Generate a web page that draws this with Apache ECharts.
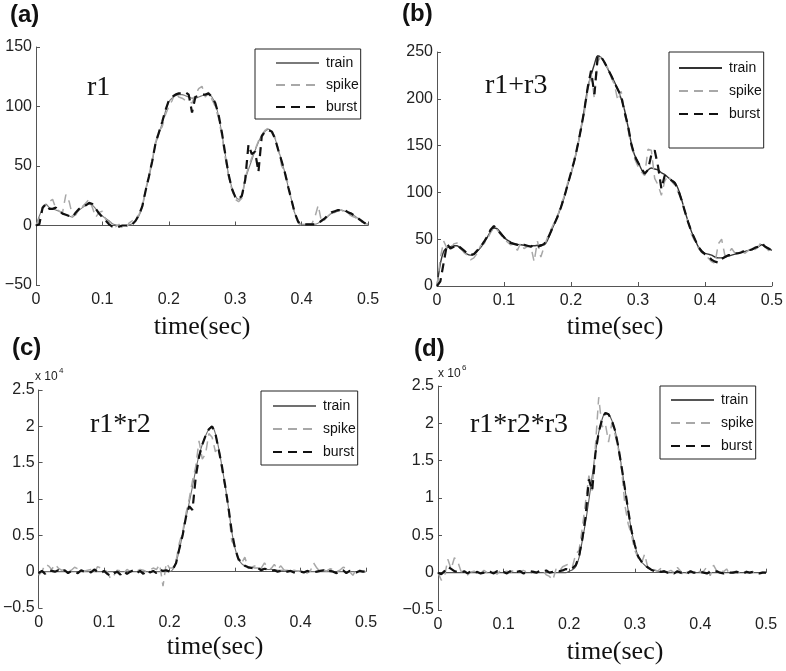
<!DOCTYPE html>
<html>
<head>
<meta charset="utf-8">
<script src="https://cdn.jsdelivr.net/npm/echarts@6/dist/echarts.min.js"></script>
<style>
html,body{margin:0;padding:0;background:#fff;}
#chart{width:786px;height:671px;}
</style>
</head>
<body>
<div id="chart"></div>
<script>
// sampling step of all traces (sec)
const STEP = 0.005;

// ---- panel (a) r1 ----
const trainA = [
  0, 8, 14, 18, 15, 14, 13, 12, 10, 9,
  8, 7, 10, 13, 15, 17, 18, 17, 14, 11,
  8, 6, 4, 1.5, 0.5, 0, 0, 0, 0.5, 1.5,
  4, 8, 15, 29, 40, 53, 68, 77, 86, 96,
  104, 107, 109, 110, 110, 109, 108, 107, 107, 108,
  109, 110, 110, 108, 102, 92, 77, 60, 43, 32,
  25, 22, 24, 38, 47, 55, 63, 70, 76, 79,
  81, 79, 73, 64, 54, 44, 32, 21, 10, 3,
  1, 1, 1, 1, 1, 2, 4, 6, 8, 10,
  11, 12, 13, 12, 11, 10, 8, 6, 4, 2,
  1];
const spikeA = [
  0, 6, 16, 17, 20, 22, 14, 12, 11, 26,
  20, 8, 9, 14, 16, 19, 22, 15, 7, 11,
  12, 5, 3, 2, -1, 1, -2, -3, 2, 4,
  6, 9, 16, 30, 42, 55, 70, 79, 83, 93,
  100, 105, 112, 108, 107, 105, 104, 103, 110, 115,
  117, 108, 112, 106, 100, 90, 75, 57, 41, 30,
  22, 20, 23, 40, 49, 57, 64, 71, 76, 80,
  82, 80, 74, 64, 50, 45, 34, 20, 9, 2,
  0, 1, 1, 1, 7, 17, 3, 5, 8, 11,
  12, 13, 13, 11, 10, 8, 7, 5, 3, 2,
  1];
const burstA = [
  0, 1, 15, 18, 14, 14, 15, 12, 10, 9,
  8, 7, 11, 14, 16, 17, 19, 18, 14, 10,
  7, 4, 1, -1, -2, -1, 0, 0, 0, 1,
  4, 9, 16, 29, 41, 54, 69, 78, 87, 97,
  105, 108, 110, 111, 111, 112, 110, 95, 108, 109,
  110, 110, 111, 108, 103, 93, 78, 60, 43, 31,
  24, 22, 25, 38, 68, 60, 62, 45, 75, 79,
  80, 79, 73, 63, 54, 44, 32, 21, 10, 3,
  1, 1, 1, 1, 1, 2, 4, 6, 9, 11,
  12, 13, 13, 13, 11, 10, 8, 6, 4, 2,
  1];

// ---- panel (b) r1+r3 ----
const trainB = [
  0, 24, 37, 41, 42, 43, 43, 40, 37, 34,
  33, 34, 37, 41, 46, 52, 58, 62, 61, 57,
  52, 49, 47, 45, 44.5, 44, 43.5, 43, 43, 43,
  43.5, 44, 44, 49, 58, 66, 75, 84, 95, 108,
  120, 133, 150, 168, 189, 211, 225, 237, 246, 244,
  239, 232, 225, 218, 210, 200, 188, 171, 153, 140,
  133, 125, 120, 124, 126, 125, 124, 121, 119, 116,
  113, 111, 104, 93, 80, 69, 58, 50, 42, 38,
  35, 34, 33, 31, 30, 30, 31, 32, 33, 34,
  35, 36, 37, 38, 39, 40, 42, 44, 42, 40,
  38];
const spikeB = [
  0, 30, 48, 40, 38, 45, 46, 42, 36, 33,
  28, 30, 35, 43, 45, 50, 57, 63, 60, 55,
  50, 47, 44, 45, 38, 46, 40, 42, 43, 26,
  48, 31, 42, 52, 60, 68, 74, 87, 96, 110,
  118, 135, 148, 170, 185, 208, 228, 200, 240, 245,
  238, 233, 223, 215, 198, 208, 185, 168, 150, 136,
  128, 122, 118, 146, 145, 115, 108, 97, 112, 118,
  112, 108, 100, 93, 80, 68, 55, 48, 41, 36,
  32, 30, 26, 24, 45, 50, 32, 35, 40, 35,
  36, 37, 35, 38, 40, 39, 42, 48, 42, 38,
  33];
const burstB = [
  0, 5, 25, 45, 40, 42, 44, 41, 38, 35,
  33, 34, 38, 42, 47, 53, 60, 64, 60, 56,
  52, 48, 46, 45, 44, 43, 44, 43, 42, 44,
  42, 43, 45, 50, 58, 66, 74, 84, 95, 108,
  121, 134, 150, 168, 188, 212, 230, 205, 246, 245,
  239, 232, 225, 217, 210, 203, 186, 172, 152, 139,
  132, 126, 120, 124, 140, 145, 128, 104, 118, 115,
  113, 110, 103, 92, 80, 68, 58, 50, 42, 37,
  34, 32, 28, 26, 25, 29, 31, 33, 33, 35,
  35, 36, 38, 38, 39, 41, 42, 45, 42, 40,
  38];

// ---- panel (c) r1*r2  (values in units of 10^4) ----
const trainC = [
  0, 0, 0, 0, 0, 0, 0, 0, 0, 0,
  0, 0, 0, 0, 0, 0, 0, 0, 0, 0,
  0, 0, 0, 0, 0, 0, 0, 0, 0, 0,
  0, 0, 0, 0, 0, 0, 0, 0, 0, 0,
  0, 0.03, 0.13, 0.3, 0.52, 0.74, 0.95, 1.17, 1.4, 1.6,
  1.75, 1.87, 1.96, 2.0, 1.9, 1.7, 1.45, 1.18, 0.88, 0.55,
  0.32, 0.18, 0.11, 0.08, 0.07, 0.06, 0.05, 0.05, 0.04, 0.04,
  0.03, 0.03, 0.03, 0.02, 0.02, 0.02, 0.02, 0.01, 0.01, 0.01,
  0.01, 0, 0, 0, 0, 0, 0, 0, 0, 0,
  0, 0, 0, 0, 0, 0, 0, 0, 0, 0,
  0];
const spikeC = [
  -0.05, 0, 0.1, 0.08, 0.03, 0.1, 0.05, 0.02, 0.03, 0.01,
  0.02, 0.06, 0.04, 0, 0.01, 0.02, 0.03, -0.02, 0.07, 0.05,
  0.02, 0, -0.1, -0.05, 0.02, 0.01, -0.02, 0.03, 0, 0.02,
  0.01, 0.03, 0.02, 0, 0.02, 0.05, 0.03, 0.1, -0.2, 0.12,
  0.05, 0.05, 0.15, 0.4, 0.55, 0.8, 1.0, 1.25, 1.45, 1.8,
  1.55, 1.62, 1.9, 1.85, 1.65, 1.72, 1.4, 1.15, 0.85, 0.42,
  0.35, 0.15, 0.12, 0.2, 0.05, 0.06, 0.08, 0.04, 0.05, 0.12,
  0.05, 0.04, 0.1, 0.03, 0.08, 0.02, 0.01, 0, 0.02, 0.01,
  0, 0.01, -0.02, 0.01, 0.12, 0.05, 0, 0.02, 0.01, 0.04,
  0.03, 0, 0.02, 0.06, 0.05, 0, -0.05, 0.03, 0.02, 0.01,
  0];
const burstC = [
  -0.02, 0.01, -0.03, 0.02, 0.01, 0, 0.02, -0.01, 0.02, -0.02,
  0.01, 0, -0.02, 0.02, 0, 0.01, -0.01, 0.03, 0, -0.02,
  0.01, -0.03, -0.06, -0.02, 0, -0.04, 0.01, -0.03, 0, 0.02,
  -0.02, 0.01, -0.03, 0.02, -0.01, 0.01, -0.02, 0.03, 0.01, 0.02,
  0, 0.03, 0.12, 0.32, 0.5, 0.75, 0.9, 0.85, 1.3, 1.58,
  1.75, 1.87, 1.96, 2.0, 1.9, 1.68, 1.45, 1.18, 0.88, 0.55,
  0.32, 0.18, 0.12, 0.08, 0.06, 0.05, 0.04, 0.05, 0.02, 0.04,
  0.03, 0.01, 0.02, 0, 0.01, 0.02, 0, 0.01, -0.01, 0,
  0, -0.01, 0.01, 0, -0.01, 0, 0.01, 0.02, -0.01, 0.01,
  0, -0.02, 0.01, 0.02, -0.02, 0.01, 0, -0.01, 0.01, 0,
  0];

// ---- panel (d) r1*r2*r3  (values in units of 10^6) ----
const trainD = [
  0, 0, 0, 0, 0, 0, 0, 0, 0, 0,
  0, 0, 0, 0, 0, 0, 0, 0, 0, 0,
  0, 0, 0, 0, 0, 0, 0, 0, 0, 0,
  0, 0, 0, 0, 0, 0, 0, 0, 0, 0,
  0.02, 0.04, 0.08, 0.2, 0.43, 0.68, 0.97, 1.29, 1.6, 1.88,
  2.05, 2.14, 2.12, 2.04, 1.9, 1.68, 1.41, 1.12, 0.83, 0.56,
  0.37, 0.22, 0.15, 0.1, 0.06, 0.04, 0.03, 0.02, 0.01, 0.01,
  0, 0, 0, 0, 0, 0, 0, 0, 0, 0,
  0, 0, 0, 0, 0, 0, 0, 0, 0, 0,
  0, 0, 0, 0, 0, 0, 0, 0, 0, 0,
  0];
const spikeD = [
  0, -0.1, -0.05, 0.18, 0.05, 0.2, 0.15, 0.02, 0, -0.03,
  0.01, 0.02, 0.02, -0.01, 0.03, 0, 0.02, 0.01, -0.02, 0.03,
  0.01, 0.02, 0, 0.03, -0.01, 0.02, 0.03, 0.01, -0.02, 0.02,
  0.01, 0.02, 0.03, -0.03, -0.05, -0.1, 0.05, 0.02, 0.08, 0.1,
  0.12, 0.08, 0.25, 0.3, 0.6, 0.95, 1.3, 1.1, 1.7, 2.35,
  1.95, 2.0, 1.75, 2.0, 1.85, 1.65, 1.38, 0.9, 0.65, 0.5,
  0.3, 0.2, 0.12, 0.25, 0.06, 0.05, 0.04, 0.02, 0.06, 0.02,
  0.01, 0.03, 0, 0.07, 0.02, -0.05, 0.01, 0.02, 0, 0.03,
  0.01, 0.02, 0.08, -0.04, 0.1, 0.02, 0.05, 0.01, 0.05, -0.03,
  0.01, 0.02, 0, 0.01, 0.02, 0, 0.01, 0.02, 0, 0.01,
  0];
const burstD = [
  0, -0.02, 0.02, 0.08, 0.05, 0.02, 0.01, 0, 0.02, -0.01,
  0.02, 0, 0.01, -0.01, 0, 0.02, 0.01, -0.01, 0.02, 0,
  0.01, -0.01, 0.02, 0, 0.01, 0.02, -0.01, 0, 0.02, 0.01,
  0, 0.02, 0.01, 0.03, 0, 0.01, 0.03, 0.02, 0.03, 0.05,
  0.03, 0.06, 0.1, 0.22, 0.45, 0.75, 1.25, 1.1, 1.6, 1.88,
  2.05, 2.14, 2.12, 2.04, 1.9, 1.68, 1.41, 1.12, 0.83, 0.56,
  0.37, 0.22, 0.15, 0.1, 0.07, 0.04, 0.02, 0.03, 0.01, 0.02,
  0, 0.01, -0.01, 0.02, 0, 0.01, -0.01, 0.02, 0, 0,
  0.01, 0, -0.01, 0.01, 0, 0.02, 0, -0.01, 0.01, 0,
  0, 0.01, 0, -0.01, 0.01, 0, 0.01, 0, -0.01, 0,
  0];

const panelLetters = ['(a)', '(b)', '(c)', '(d)'];
const panelTitles = ['r1', 'r1+r3', 'r1*r2', 'r1*r2*r3'];
const seriesNames = ['train', 'spike', 'burst'];
const yMins = [-50, 0, -0.5, -0.5];
const yMaxs = [150, 250, 2.5, 2.5];
const yIntervals = [50, 50, 0.5, 0.5];
const xTickLabels = ['0', '0.1', '0.2', '0.3', '0.4', '0.5'];
const xLabel = 'time(sec)';
const exponents = [null, null, '4', '6'];

const panelData = [
  [trainA, spikeA, burstA],
  [trainB, spikeB, burstB],
  [trainC, spikeC, burstC],
  [trainD, spikeD, burstD]
];

const SANS = '"Liberation Sans", Arial, sans-serif';
const SERIF = '"Liberation Serif", "Times New Roman", serif';

const grids = [
  {left: 36, top: 47, width: 332, height: 238},
  {left: 437, top: 52, width: 336, height: 234},
  {left: 35, top: 390, width: 331, height: 218},
  {left: 438, top: 386, width: 328, height: 224}
];
const trainColors = ['#7a7a7a', '#333333', '#707070', '#555555'];
const legendBoxes = [
  {left: 255, top: 49, padding: [7, 2, 5, 20], gap: 8},
  {left: 669, top: 52, padding: [9, 2, 27, 9], gap: 9},
  {left: 261, top: 391, padding: [8, 2, 6, 11], gap: 9},
  {left: 660, top: 386, padding: [7, 2, 6, 10], gap: 9}
];
const suffix = ['_a', '_b', '_c', '_d'];

function toPairs(arr) {
  return arr.map((v, i) => [+(i * STEP).toFixed(3), v]);
}
function fmtY(v) {
  return String(+v.toFixed(2)).replace('-', '\u2212');
}

const xAxes = [], yAxes = [], series = [], legends = [];
grids.forEach((g, k) => {
  xAxes.push({
    type: 'value', gridIndex: k, min: 0, max: 0.5, interval: 0.1,
    axisLine: {lineStyle: {color: '#555', width: 1}},
    axisTick: {inside: true, length: 4, lineStyle: {color: '#555'}},
    splitLine: {show: false},
    axisLabel: {
      margin: 7, color: '#222', fontFamily: SANS, fontSize: 16,
      formatter: v => xTickLabels[Math.round(v * 10)]
    }
  });
  yAxes.push({
    type: 'value', gridIndex: k, min: yMins[k], max: yMaxs[k], interval: yIntervals[k],
    axisLine: {show: true, lineStyle: {color: '#555', width: 1}},
    axisTick: {show: true, inside: true, length: 4, lineStyle: {color: '#555'}},
    splitLine: {show: false},
    axisLabel: {margin: 4, color: '#222', fontFamily: SANS, fontSize: 16, formatter: fmtY}
  });
  const [tr, sp, bu] = panelData[k];
  series.push({
    name: 'train' + suffix[k], type: 'line', xAxisIndex: k, yAxisIndex: k,
    data: toPairs(tr), symbol: 'none', smooth: 0.3,
    lineStyle: {color: trainColors[k], width: k === 1 ? 1.4 : 1.1},
    itemStyle: {color: trainColors[k]}, z: 2
  });
  series.push({
    name: 'spike' + suffix[k], type: 'line', xAxisIndex: k, yAxisIndex: k,
    data: toPairs(sp), symbol: 'none',
    lineStyle: {color: '#a8a8a8', width: 1.5, type: [9, 6]},
    itemStyle: {color: '#a8a8a8'}, z: 3
  });
  series.push({
    name: 'burst' + suffix[k], type: 'line', xAxisIndex: k, yAxisIndex: k,
    data: toPairs(bu), symbol: 'none',
    lineStyle: {color: '#111', width: 2.2, type: [9, 6]},
    itemStyle: {color: '#111'}, z: 4
  });
  const lb = legendBoxes[k];
  legends.push({
    data: seriesNames.map(n => n + suffix[k]),
    orient: 'vertical', left: lb.left, top: lb.top,
    padding: lb.padding, itemGap: lb.gap,
    itemWidth: 43, itemHeight: 14,
    backgroundColor: '#fff', borderColor: '#222', borderWidth: 1,
    borderRadius: 0,
    selectedMode: false,
    itemStyle: {opacity: 0, borderWidth: 0},
    formatter: n => n.split('_')[0],
    textStyle: {fontFamily: SANS, fontSize: 14, color: '#111', lineHeight: 14, padding: [0, 0, 0, 2]}
  });
});

const letterPos = [[10, 15], [402, 14], [12, 348], [414, 349]];
const titlePos = [[87, 88], [485, 86], [90, 425], [470, 425]];
const xLabelPos = [[202, 327], [615, 327], [215, 647], [615, 652]];
const expPos = [[0, 0], [0, 0], [35, 377], [438, 374]];

const graphics = [];
for (let k = 0; k < 4; k++) {
  graphics.push({
    type: 'text', left: letterPos[k][0], top: letterPos[k][1] - 12,
    style: {text: panelLetters[k], font: 'bold 24px ' + SANS, fill: '#111'}
  });
  graphics.push({
    type: 'text', x: titlePos[k][0], y: titlePos[k][1],
    style: {text: panelTitles[k], font: '28px ' + SERIF, fill: '#111', textVerticalAlign: 'middle'}
  });
  graphics.push({
    type: 'text', x: xLabelPos[k][0], y: xLabelPos[k][1],
    style: {text: xLabel, font: '26px ' + SERIF, fill: '#111', textAlign: 'center', textVerticalAlign: 'middle'}
  });
  if (exponents[k]) {
    graphics.push({
      type: 'text', x: expPos[k][0], y: expPos[k][1],
      style: {text: 'x 10', font: '12px ' + SANS, fill: '#222', textVerticalAlign: 'middle'}
    });
    graphics.push({
      type: 'text', x: expPos[k][0] + 24, y: expPos[k][1] - 6,
      style: {text: exponents[k], font: '8px ' + SANS, fill: '#222', textVerticalAlign: 'middle'}
    });
  }
}

const chart = echarts.init(document.getElementById('chart'), null, {renderer: 'canvas'});
chart.setOption({
  animation: false,
  backgroundColor: '#fff',
  grid: grids.map(g => Object.assign({containLabel: false}, g)),
  xAxis: xAxes,
  yAxis: yAxes,
  legend: legends,
  series: series,
  graphic: graphics
});
</script>
</body>
</html>
